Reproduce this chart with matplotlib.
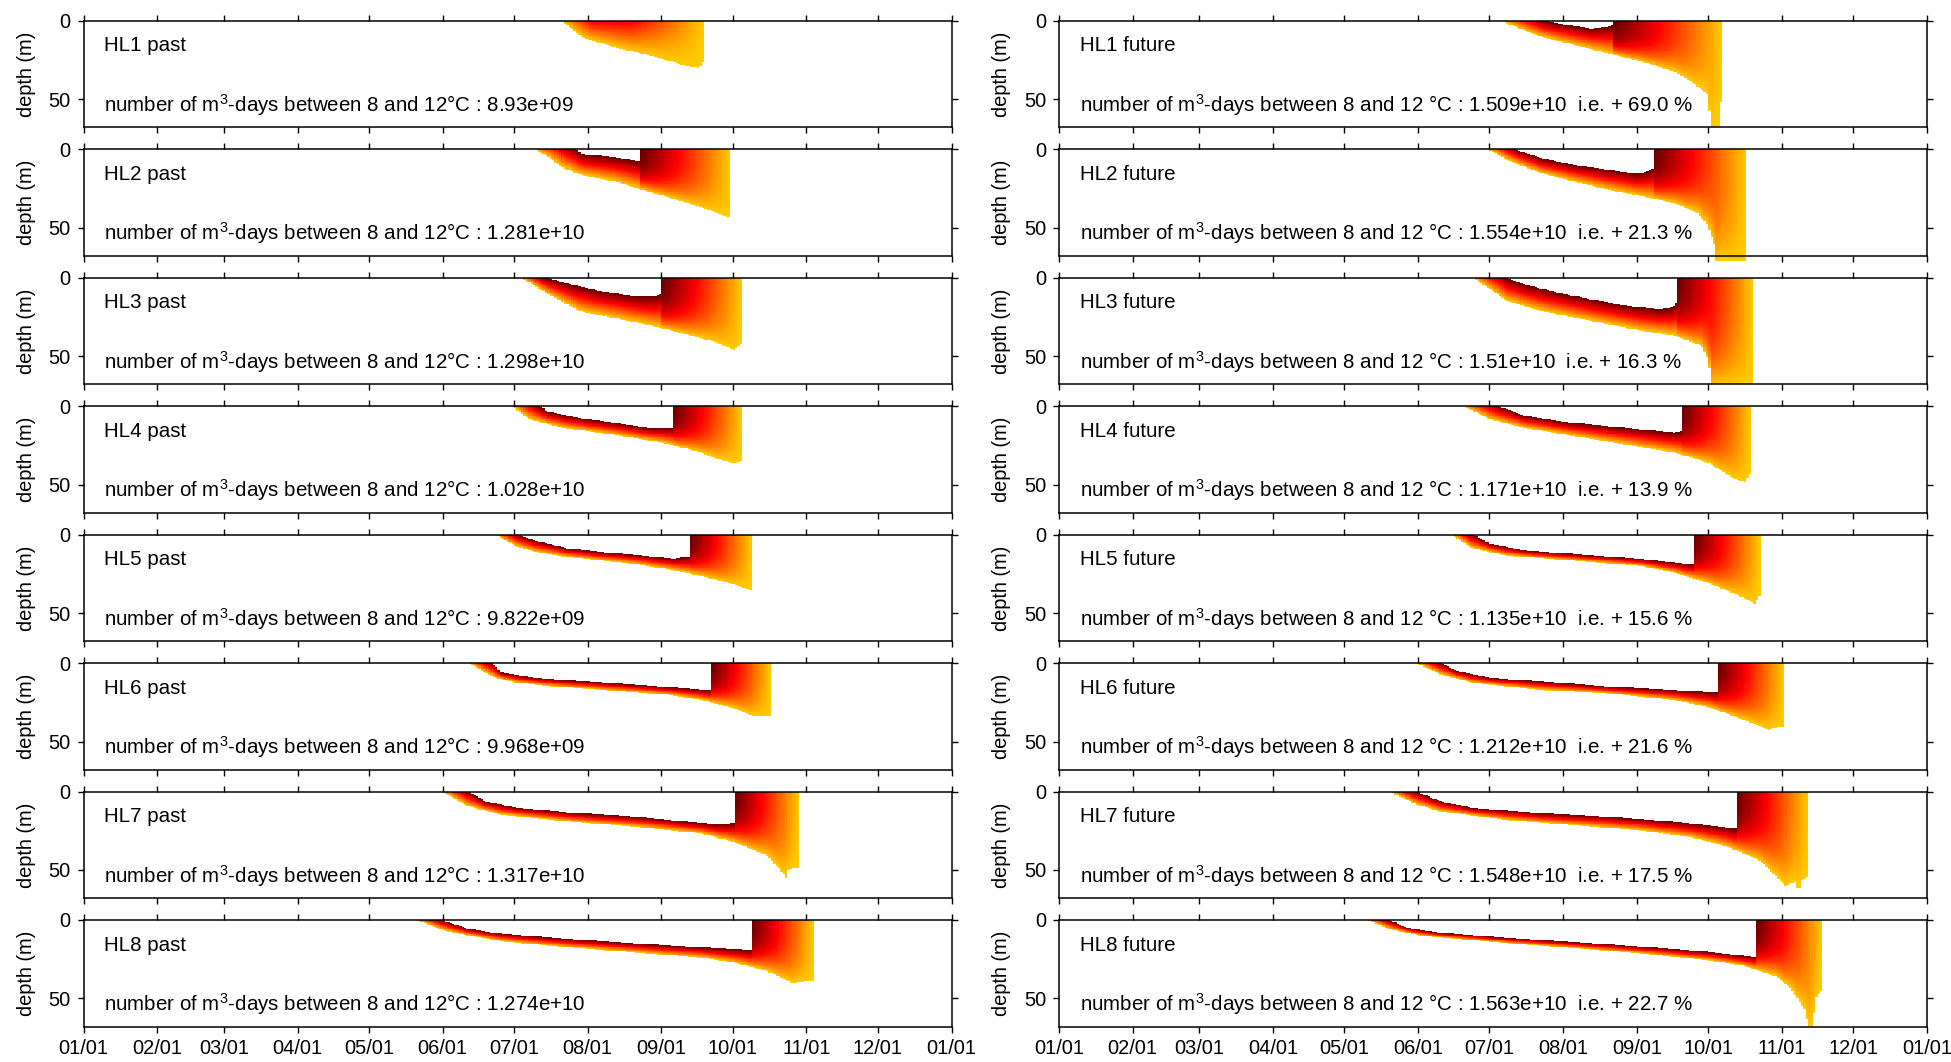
import numpy as np
import matplotlib
matplotlib.use('Agg')
import matplotlib.pyplot as plt
from matplotlib.colors import ListedColormap

plt.rcParams['font.family'] = ['Liberation Sans', 'DejaVu Sans']
plt.rcParams['font.size'] = 14.4

stations = ['HL1', 'HL2', 'HL3', 'HL4', 'HL5', 'HL6', 'HL7', 'HL8']
past_total = ['8.93e+09', '1.281e+10', '1.298e+10', '1.028e+10',
              '9.822e+09', '9.968e+09', '1.317e+10', '1.274e+10']
future_total = ['1.509e+10', '1.554e+10', '1.51e+10', '1.171e+10',
                '1.135e+10', '1.212e+10', '1.548e+10', '1.563e+10']
future_change = ['69.0', '21.3', '16.3', '13.9', '15.6', '21.6', '17.5', '22.7']

month_days = [0, 31, 59, 90, 120, 151, 181, 212, 243, 273, 304, 334, 365]
month_labels = ['01/01', '02/01', '03/01', '04/01', '05/01', '06/01', '07/01',
                '08/01', '09/01', '10/01', '11/01', '12/01', '01/01']

# day of year: layer appears, surface reaches 12 degC, autumn overturn, layer gone
past_start = [201, 190, 184, 180, 173, 162, 151, 140]
past_warm = [214, 207, 194, 192, 183, 172, 162, 151]
past_mix = [230, 234, 243, 248, 255, 264, 274, 281]
past_end = [261, 272, 277, 277, 281, 289, 301, 307]
past_peak = [10.5, 12, 12, 12, 12, 12, 12, 12]
past_mixpow = [1, 3, 3, 3, 3, 3, 3, 3]

future_start = [186, 181, 174, 170, 165, 150, 139, 130]
future_warm = [204, 192, 188, 185, 174, 161, 150, 139]
future_mix = [233, 250, 260, 262, 267, 277, 285, 293]
future_end = [279, 289, 292, 291, 295, 305, 315, 321]
future_peak = [12, 12, 12, 12, 12, 12, 12, 12]
future_mixpow = [3, 3, 3, 3, 3, 3, 3, 3]

# 12 degC isotherm (day, depth) during stratification
past_top = [
    [],
    [(207, 0), (209, 3), (223, 5), (229, 6.3), (232, 7.4), (234, 7.4)],
    [(194, 0), (203, 3.5), (216, 8.2), (233, 12), (240, 12), (243, 10)],
    [(192, 0), (195, 3.5), (209, 7.7), (223, 10.5), (238, 14), (248, 14)],
    [(183, 0), (189.5, 3.5), (203.5, 8.9), (217.5, 11), (231.6, 12.8), (248.4, 15.4), (255, 14)],
    [(172, 0), (175.5, 6), (189.5, 9.3), (203.5, 10.9), (217.5, 12.2), (231.6, 13.7), (245.6, 15.2), (261, 17), (264, 17)],
    [(162, 0), (168.5, 6), (182.5, 10.4), (203.5, 13.3), (231.6, 15.9), (252.6, 19.1), (266.6, 20.9), (274, 20)],
    [(151, 0), (161.5, 5.4), (175.5, 8.7), (203.5, 12), (231.6, 14.8), (259.6, 17.4), (281, 19.1)],
]
# 8 degC isotherm (day, depth)
past_bot = [
    [(201, 0), (210, 11), (226, 18), (237, 21.6), (247, 26), (254, 29), (259, 30), (261, 25)],
    [(190, 0), (195, 4.6), (202, 12), (209, 16.3), (223, 20.5), (237, 26.9), (251, 33), (264, 39.4), (272, 43.7)],
    [(184, 0), (196, 11), (209, 21.5), (223, 25.7), (237, 30), (251, 35.3), (265, 40.6), (273.5, 45.9), (277, 42)],
    [(180, 0), (188, 8.8), (202, 14), (223, 18.3), (244, 23.6), (258, 28.9), (268, 34.2), (273.5, 36.3), (277, 35)],
    [(173, 0), (182.5, 7.8), (189.5, 11), (203.5, 14.3), (217.5, 16.5), (231.6, 18.7), (245.6, 22), (259.6, 26.3), (273.6, 31.7), (281, 36)],
    [(162, 0), (172.7, 9.3), (182.5, 12.6), (196.5, 14.8), (217.5, 17), (245.6, 20.2), (259.6, 23.5), (273.6, 28.9), (280.6, 33.3), (289, 34.3)],
    [(151, 0), (161.5, 9.3), (175.5, 14.8), (203.5, 19.1), (231.6, 22.4), (259.6, 26.7), (273.6, 32.2), (287.6, 40.9), (294.6, 52.8), (295.3, 56), (296.5, 50), (300.2, 48.5), (301, 48.5)],
    [(140, 0), (151, 6.5), (161.5, 9.8), (175.5, 13.5), (203.5, 17.4), (231.6, 20.7), (259.6, 23.9), (273.6, 27.2), (287.6, 32.6), (298, 40.2), (304.4, 39), (307, 39)],
]
future_top = [
    [(204, 0), (209.5, 1.7), (223.6, 4.9), (230.7, 3.8), (233, 3)],
    [(192, 0), (202.5, 5.7), (216.5, 10), (230.7, 13.1), (243.4, 15.7), (247.6, 14.2), (250, 12)],
    [(187.6, 0), (195.4, 4.2), (209.5, 9.5), (223.6, 13.8), (237.7, 17.6), (251.8, 20.1), (258.1, 19), (260, 15)],
    [(184.8, 0), (195.4, 5.9), (209.5, 9.5), (230.7, 12.7), (244.8, 14.8), (258.8, 16.9), (262, 16)],
    [(174.2, 0), (181.3, 5.7), (195.4, 10.1), (216.6, 12.3), (244.8, 15.6), (265.9, 18.9), (267, 18.9)],
    [(160.9, 0), (167.2, 5), (181.3, 9.4), (202.5, 11.6), (230.7, 14.9), (258.9, 17.1), (275.8, 18.7), (277, 18.7)],
    [(150.3, 0), (160.2, 6.1), (174.2, 10.5), (202.5, 13.8), (230.7, 16), (258.9, 19.3), (273, 21.5), (285, 23.7)],
    [(139, 0), (146, 4.8), (160.2, 8.1), (188.4, 11.4), (216.6, 14), (244.8, 16.9), (273, 20.2), (293, 23.5)],
]
future_bot = [
    [(185.5, 0), (195.4, 5.9), (202.5, 10.2), (216.5, 15.5), (230.7, 20.8), (244.8, 26), (258.8, 32.4), (265.9, 38.8), (273, 47.2), (274, 68), (278, 68), (278.6, 49)],
    [(180.6, 0), (188.4, 6.8), (202.5, 15.3), (216.5, 20.6), (230.7, 25.8), (244.8, 30), (258.8, 34.3), (268.7, 40.7), (273, 49.2), (275.8, 61.9), (276.5, 71), (289, 71)],
    [(174.2, 0), (181.3, 7.4), (188.4, 14.8), (202.5, 21.2), (216.5, 25.4), (230.7, 29.7), (244.8, 33.9), (258.8, 37), (270.1, 43.4), (273, 51.9), (274.4, 68), (292, 68)],
    [(170, 0), (181.3, 8.5), (195.4, 13.8), (216.5, 19.1), (237.7, 24.4), (258.8, 29.7), (273, 36), (284.3, 46.6), (288.5, 48.7), (291, 42)],
    [(165.1, 0), (174.2, 9), (188.4, 13.4), (216.6, 16.7), (244.8, 20), (258.9, 24.4), (273, 30.9), (287.1, 39.7), (292.7, 44.1), (295, 37.5)],
    [(150.4, 0), (160.2, 7.2), (174.2, 12.7), (202.5, 17.1), (230.7, 19.3), (258.9, 23.7), (273, 28.1), (287.1, 35.8), (298.4, 42.4), (304.7, 40.2)],
    [(139, 0), (150.3, 8.3), (160.2, 12.7), (188.4, 18.2), (216.6, 21.5), (244.8, 24.8), (265.9, 29.2), (280, 34.7), (294.2, 43.5), (301.2, 53.3), (305.4, 60), (310, 57), (311, 66), (312, 57), (314.6, 54.4), (315, 54.4)],
    [(129.8, 0), (139, 5.9), (153, 10.3), (188.4, 14.7), (216.6, 18), (244.8, 21.3), (273, 25.7), (287.1, 29), (301.2, 35.6), (308.2, 44.3), (313.9, 57.5), (315, 68), (317, 68), (318, 50), (320.9, 44.3), (321.2, 44.3)],
]

days = np.arange(0, 366)
depths = np.arange(0, 72.5, 0.5)
cmap = ListedColormap(plt.cm.hot(np.linspace(0.67, 0.14, 256)))


def layer(start, warm, mix, end, peak, mixpow, top, bot):
    dc = days[:-1] + 0.5
    zc = depths[:-1] + 0.25
    if top:
        ztop = np.interp(dc, [p[0] for p in top], [p[1] for p in top])
        ztop = np.where((dc >= warm) & (dc < mix), ztop, 0)
    else:
        ztop = np.zeros_like(dc)
    zbot = np.interp(dc, [p[0] for p in bot], [p[1] for p in bot], left=0, right=0)
    ts = np.interp(dc, [start, warm, mix, end], [8.3, peak, peak, 8.0])
    D, Z = np.meshgrid(dc, zc)
    top2, bot2, ts2 = ztop[None, :], zbot[None, :], ts[None, :]
    f = np.clip((Z - top2) / np.maximum(bot2 - top2, 1e-6), 0, 1)
    T = np.where(D < mix, ts2 - (ts2 - 8) * f, ts2 - (ts2 - 8) * f ** mixpow)
    inside = (D >= start) & (D <= end) & (Z >= top2) & (Z <= bot2)
    return np.ma.masked_where(~inside, T)


fig = plt.figure(figsize=(19.51, 10.62), dpi=100)
W, H = 1951., 1062.
col_x = [83.5, 1059.0]
ax_w, ax_h = 868.0, 106.7

for col in range(2):
    for r in range(8):
        top_px = 20.7 + r * 128.47
        ax = fig.add_axes([col_x[col] / W, 1 - (top_px + ax_h) / H, ax_w / W, ax_h / H])
        if col == 0:
            T = layer(past_start[r], past_warm[r], past_mix[r], past_end[r],
                      past_peak[r], past_mixpow[r], past_top[r], past_bot[r])
            title = '%s past' % stations[r]
            txt = 'number of $\\mathregular{m^{3}}$-days between 8 and 12°C : ' + past_total[r]
        else:
            T = layer(future_start[r], future_warm[r], future_mix[r], future_end[r],
                      future_peak[r], future_mixpow[r], future_top[r], future_bot[r])
            title = '%s future' % stations[r]
            txt = ('number of $\\mathregular{m^{3}}$-days between 8 and 12 °C : %s  i.e. + %s %%'
                   % (future_total[r], future_change[r]))
        ax.pcolormesh(days, depths, T, cmap=cmap, vmin=8, vmax=12, shading='flat',
                      edgecolors='none', antialiased=False, clip_on=False)
        ax.set_xlim(0, 365)
        ax.set_ylim(68, 0)
        ax.set_xticks(month_days)
        ax.set_yticks([0, 50])
        ax.tick_params(direction='out', top=True, right=True, length=4.6, width=1.0,
                       pad=4.5, labelsize=14.4, labelbottom=(r == 7))
        if r == 7:
            ax.set_xticklabels(month_labels)
        for s in ax.spines.values():
            s.set_linewidth(1.1)
        ax.set_ylabel('depth (m)', fontsize=14.4)
        ax.yaxis.set_label_coords(-48 / ax_w, 0.5)
        ax.text(0.024, 0.712, title, transform=ax.transAxes, fontsize=14.8)
        ax.text(0.024, 0.149, txt, transform=ax.transAxes, fontsize=14.8)

fig.savefig('out.png', dpi=100)
